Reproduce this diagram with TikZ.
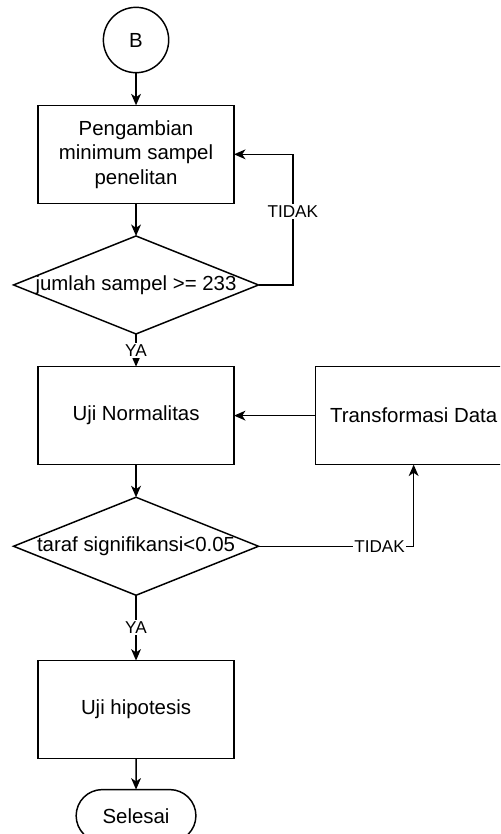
\documentclass[tikz,border=0pt]{standalone}
\usepackage{fontspec}
\setmainfont{Liberation Sans}
\usepackage{tikz}
\usetikzlibrary{arrows.meta, positioning, shapes.geometric, shapes.misc}
\tikzset{
  >={Stealth[length=7pt, width=6pt, inset=2pt]},
  base/.style={draw, line width=0.9pt, outer sep=0pt, align=center, font=\fontsize{12.5}{15}\selectfont},
  proc/.style={base, rectangle, minimum width=120pt, minimum height=60pt, inner sep=2pt},
  dec/.style={base, diamond, minimum width=150pt, minimum height=60pt, inner sep=0pt},
  term/.style={base, rounded rectangle, minimum width=80pt, minimum height=32pt},
  conn/.style={base, circle, minimum size=40pt, inner sep=0pt},
  flow/.style={->, line width=0.9pt},
  tag/.style={font=\fontsize{10.5}{12}\selectfont, fill=white, inner sep=1pt},
}

\begin{document}
\begin{tikzpicture}[x=1pt, y=-1pt]
  \clip (0,0) rectangle (306.2,510.7);

  \node[conn] (b) at (83.3,24.5) {B};
  \node[proc, below=20pt of b] (ambil) {Pengambian\\minimum sampel\\penelitan};
  \node[dec, below=20pt of ambil] (cekSampel) {\makebox[0pt]{jumlah sampel >= 233}};
  \node[proc, below=20pt of cekSampel] (normal) {Uji Normalitas};
  \node[proc, right=50pt of normal] (transform) {Transformasi Data};
  \node[dec, below=20pt of normal] (cekSig) {\makebox[0pt]{taraf signifikansi<0.05}};
  \node[proc, below=40pt of cekSig] (hipotesis) {Uji hipotesis};
  \node[term, below=19pt of hipotesis] (selesai) {Selesai};

  \draw[flow] (b) -- (ambil);
  \draw[flow] (ambil) -- (cekSampel);
  \draw[flow] (cekSampel.east) -- ++(21,0) |- node[tag, pos=0.28] {TIDAK} (ambil.east);
  \draw[flow] (cekSampel) -- node[tag] {YA} (normal);
  \draw[flow] (transform) -- (normal);
  \draw[flow] (normal) -- (cekSig);
  \draw[flow] (cekSig.east) -| node[tag, pos=0.39] {TIDAK} (transform.south);
  \draw[flow] (cekSig) -- node[tag] {YA} (hipotesis);
  \draw[flow] (hipotesis) -- (selesai);
\end{tikzpicture}
\end{document}
